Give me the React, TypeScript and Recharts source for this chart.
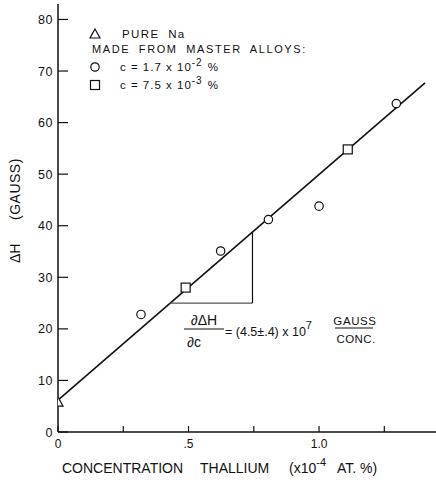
import React from 'react';
import { ComposedChart, Scatter, XAxis, YAxis, ReferenceLine } from 'recharts';

// concentration (x10^-4 at. %) vs line width dH (gauss)
const pureNaC = [0];
const pureNaH = [5.8];
const alloy17C = [0.318, 0.623, 0.806, 1.0, 1.296];
const alloy17H = [22.8, 35.1, 41.2, 43.8, 63.7];
const alloy75C = [0.489, 1.11];
const alloy75H = [28.0, 54.8];

const fitC = [0, 1.406];
const fitH = [6.2, 67.7];
const slopeC = [0.43, 0.745];
const slopeH = [25, 38.8];

const xTicks = [0, 0.25, 0.5, 0.75, 1, 1.25];
const xTickLabels = ['0', '', '.5', '', '1.0', ''];
const yTicks = [0, 10, 20, 30, 40, 50, 60, 70, 80];
const yTickLabels = ['0', '10', '20', '30', '40', '50', '60', '70', '80'];

const zip = (c: number[], h: number[]) => c.map((v, i) => ({ c: v, dh: h[i] }));
const pureNa = zip(pureNaC, pureNaH);
const alloy17 = zip(alloy17C, alloy17H);
const alloy75 = zip(alloy75C, alloy75H);

const FONT = '"Liberation Sans", Arial, sans-serif';
const INK = '#111';

const Circ = (p: any) => <circle cx={p.cx} cy={p.cy} r={4.2} fill="#fff" stroke={INK} strokeWidth={1.2} />;
const Sq = (p: any) => <rect x={p.cx - 4.5} y={p.cy - 4.5} width={9} height={9} fill="#fff" stroke={INK} strokeWidth={1.2} />;
const Tri = (p: any) => (
  <polygon points={`${p.cx},${p.cy - 5} ${p.cx + 5},${p.cy + 4} ${p.cx - 5},${p.cy + 4}`} fill="#fff" stroke={INK} strokeWidth={1.2} />
);

const XTick = (p: any) => {
  const label = xTickLabels[xTicks.indexOf(p.payload.value)];
  return (
    <g>
      <line x1={p.x} y1={p.y} x2={p.x} y2={p.y - 6} stroke={INK} strokeWidth={1.2} />
      <text x={p.x} y={p.y + 16} textAnchor="middle" fontSize={12} fontFamily={FONT} fill={INK}>{label}</text>
    </g>
  );
};

const YTick = (p: any) => {
  const label = yTickLabels[yTicks.indexOf(p.payload.value)];
  return (
    <g>
      <line x1={p.x} y1={p.y} x2={p.x + 10} y2={p.y} stroke={INK} strokeWidth={1.2} />
      <text x={p.x - 5} y={p.y + 4.5} textAnchor="end" fontSize={12.5} fontFamily={FONT} letterSpacing={0.5} fill={INK}>{label}</text>
    </g>
  );
};

const txt = { fontFamily: FONT, fill: INK } as const;

export default function App() {
  return (
    <div style={{ position: 'absolute', left: 0, top: 0, width: 436, height: 480, background: '#fff' }}>
      <ComposedChart width={436} height={480} margin={{ top: 4, right: 0, bottom: 0, left: 0 }}>
        <XAxis
          type="number" dataKey="c" domain={[0, 1.448]} ticks={xTicks} allowDataOverflow
          height={48} tickSize={0} tickMargin={0} tickLine={false} tick={<XTick />}
          axisLine={{ stroke: INK, strokeWidth: 1.5 }}
        />
        <YAxis
          type="number" dataKey="dh" domain={[0, 83]} ticks={yTicks} allowDataOverflow
          width={58} tickSize={0} tickMargin={0} tickLine={false} tick={<YTick />}
          axisLine={{ stroke: INK, strokeWidth: 1.5 }}
        />
        <ReferenceLine
          segment={[{ x: fitC[0], y: fitH[0] }, { x: fitC[1], y: fitH[1] }]}
          stroke={INK} strokeWidth={1.6}
        />
        <ReferenceLine
          segment={[{ x: slopeC[0], y: slopeH[0] }, { x: slopeC[1], y: slopeH[0] }]}
          stroke="#555" strokeWidth={1.2}
        />
        <ReferenceLine
          segment={[{ x: slopeC[1], y: slopeH[0] }, { x: slopeC[1], y: slopeH[1] }]}
          stroke={INK} strokeWidth={1.2}
        />
        <Scatter data={pureNa} shape={<Tri />} isAnimationActive={false} />
        <Scatter data={alloy17} shape={<Circ />} isAnimationActive={false} />
        <Scatter data={alloy75} shape={<Sq />} isAnimationActive={false} />
      </ComposedChart>

      <svg width={436} height={480} style={{ position: 'absolute', left: 0, top: 0, pointerEvents: 'none' }}>
        {/* legend */}
        <Tri cx={95} cy={34} />
        <text x={122} y={38} fontSize={11.5} letterSpacing={1.4} wordSpacing={4} {...txt}>PURE Na</text>
        <text x={92} y={53} fontSize={11} letterSpacing={1.6} wordSpacing={4} {...txt}>MADE FROM MASTER ALLOYS:</text>
        <Circ cx={95} cy={67} />
        <text x={120} y={71} fontSize={11.5} letterSpacing={1} {...txt}>
          c = 1.7 x 10<tspan dy={-5} fontSize={10}>-2</tspan><tspan dy={5} dx={5}>%</tspan>
        </text>
        <Sq cx={95} cy={85} />
        <text x={120} y={89} fontSize={11.5} letterSpacing={1} {...txt}>
          c = 7.5 x 10<tspan dy={-5} fontSize={10}>-3</tspan><tspan dy={5} dx={5}>%</tspan>
        </text>

        {/* slope annotation */}
        <text x={204} y={325} textAnchor="middle" fontSize={14} {...txt}>∂ΔH</text>
        <line x1={184} y1={329} x2={224} y2={329} stroke={INK} strokeWidth={1.2} />
        <text x={187} y={347} fontSize={14} {...txt}>∂c</text>
        <text x={225} y={336} fontSize={12.5} {...txt}>
          = (4.5±.4) x 10<tspan dy={-7} fontSize={11}>7</tspan>
        </text>
        <text x={355} y={325} textAnchor="middle" fontSize={11.5} letterSpacing={0.6} {...txt}>GAUSS</text>
        <line x1={335} y1={328} x2={373} y2={328} stroke={INK} strokeWidth={1.2} />
        <text x={356} y={343} textAnchor="middle" fontSize={11.5} letterSpacing={0.4} {...txt}>CONC.</text>

        {/* axis titles */}
        <text x={62} y={473} fontSize={14} {...txt}>CONCENTRATION</text>
        <text x={200} y={473} fontSize={14} {...txt}>THALLIUM</text>
        <text x={289} y={473} fontSize={14} {...txt}>
          (x10<tspan dy={-7} fontSize={11}>-4</tspan>
        </text>
        <text x={337} y={473} fontSize={14} {...txt}>AT. %)</text>
        <text transform="translate(20,263) rotate(-90)" fontSize={14} {...txt}>ΔH</text>
        <text transform="translate(20,220) rotate(-90)" fontSize={14} letterSpacing={0.5} {...txt}>(GAUSS)</text>
      </svg>
    </div>
  );
}
